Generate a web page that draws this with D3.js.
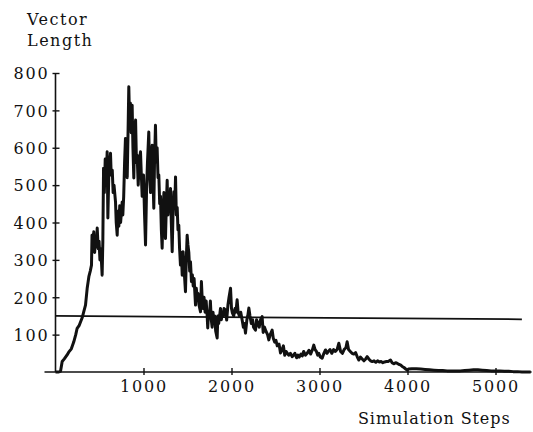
<!DOCTYPE html>
<html>
<head>
<meta charset="utf-8">
<script src="https://cdn.jsdelivr.net/npm/d3@7/dist/d3.min.js"></script>
<style>
html,body{margin:0;padding:0;background:#fff;}
svg text{font-family:"DejaVu Serif",serif;fill:#111;}
</style>
</head>
<body>
<svg id="chart" width="533" height="432"></svg>
<script>
const stepsX = [0,30,57,76,100,130,150,180,207,230,246,270,303,320,341,360,379,395,409,415,425,435,445,455,465,474,485,495,505,515,530,538,546,555,565,575,587,595,605,615,625,633,645,655,665,682,690,701,710,720,730,740,758,765,775,785,795,805,815,825,833,840,850,860,871,880,890,900,910,920,928,940,950,966,975,985,1000,1012,1023,1035,1045,1060,1070,1080,1090,1099,1108,1117,1125,1136,1145,1155,1165,1174,1184,1193,1203,1212,1222,1232,1241,1250,1260,1269,1278,1288,1297,1307,1316,1326,1335,1345,1355,1364,1373,1383,1392,1401,1410,1420,1430,1440,1450,1460,1477,1486,1496,1505,1515,1525,1534,1545,1555,1565,1575,1591,1600,1610,1620,1630,1648,1658,1668,1678,1688,1700,1712,1723,1730,1740,1750,1760,1770,1780,1790,1800,1810,1820,1837,1845,1855,1865,1875,1885,1895,1905,1915,1932,1945,1960,1972,1989,2000,2010,2025,2040,2050,2064,2075,2090,2105,2121,2135,2145,2159,2175,2185,2197,2210,2225,2240,2250,2273,2285,2300,2315,2330,2348,2360,2375,2390,2410,2424,2440,2462,2475,2490,2505,2520,2540,2557,2575,2590,2605,2620,2635,2650,2670,2689,2705,2720,2740,2755,2770,2790,2805,2820,2840,2860,2880,2900,2920,2935,2950,2965,2980,2992,3010,3030,3050,3068,3085,3100,3120,3140,3160,3180,3200,3220,3240,3260,3280,3300,3314,3330,3350,3370,3390,3410,3430,3447,3465,3485,3505,3525,3542,3560,3580,3600,3620,3640,3660,3680,3700,3720,3740,3760,3780,3807,3825,3845,3865,3885,3905,3920,3940,3960,3980,3996,4010,4050,4100,4150,4200,4250,4300,4350,4400,4450,4500,4550,4600,4650,4700,4750,4800,4850,4900,4950,5000,5050,5100,5150,5200,5250,5300,5400];
const vectorLength = [0,0,2,28,35,45,53,62,80,100,117,125,145,160,179,224,255,270,286,366,330,375,320,360,335,385,330,350,300,330,259,350,545,480,570,500,589,412,520,560,585,527,540,480,500,455,400,366,430,390,445,400,455,420,470,560,625,610,520,650,763,690,720,640,714,600,519,650,674,560,580,500,560,589,530,470,527,420,340,490,560,642,527,480,580,607,520,438,560,660,562,600,520,527,450,470,380,331,436,480,400,357,450,513,420,470,440,491,400,322,420,482,440,522,420,440,380,393,330,286,320,259,322,280,215,300,366,340,320,270,295,242,260,230,250,179,224,200,210,180,161,242,190,170,200,160,190,152,118,160,150,190,140,120,160,130,150,110,91,150,130,150,170,140,160,150,170,166,139,180,200,224,170,158,150,170,160,193,160,150,160,139,120,130,104,140,150,171,150,130,140,120,112,140,130,120,140,148,106,120,110,100,86,100,112,90,80,85,70,75,51,60,70,45,55,50,45,50,41,45,50,38,45,40,48,43,55,45,50,58,48,60,72,60,55,45,50,40,37,50,59,50,55,60,50,60,55,60,77,55,50,60,65,81,60,55,50,48,52,40,32,40,35,30,35,41,35,30,28,30,26,30,27,28,25,27,28,28,32,25,22,25,23,20,19,15,12,8,5,8,9,9,8,7,6,5,4,4,3,3,3,3,4,5,6,6,5,4,3,3,3,2,2,1,1,0,0];
const refX = [0, 5300];
const refY = [150, 141];
const yTicks = [100,200,300,400,500,600,700,800];
const xTicks = [1000,2000,3000,4000,5000];

const svg = d3.select("#chart");
const x = d3.scaleLinear().domain([0, 5000]).range([55.5, 495.5]);
const y = d3.scaleLinear().domain([0, 800]).range([372, 73]);

// axes lines
svg.append("line").attr("x1", x(-125)).attr("x2", x(5410)).attr("y1", y(0)).attr("y2", y(0))
  .attr("stroke", "#111").attr("stroke-width", 1.6);
svg.append("line").attr("x1", x(0)).attr("x2", x(0)).attr("y1", y(0)).attr("y2", y(800))
  .attr("stroke", "#111").attr("stroke-width", 1.6);

// y axis ticks
const yAxis = d3.axisLeft(y).tickValues(yTicks).tickSize(0).tickPadding(0);
const gy = svg.append("g").attr("transform", `translate(${x(0)},0)`).call(yAxis);
gy.select(".domain").remove();
gy.selectAll(".tick").append("line").attr("x1", -3).attr("x2", 4).attr("stroke", "#111").attr("stroke-width", 1.4);
gy.selectAll(".tick text").attr("x", -6).attr("dy", "0.36em")
  .style("font-size", "16px").style("letter-spacing", "1.8px").style("font-family", "DejaVu Serif, serif").attr("fill", "#111");

// x axis ticks
const xAxis = d3.axisBottom(x).tickValues(xTicks).tickSize(0).tickPadding(0).tickFormat(d3.format("d"));
const gx = svg.append("g").attr("transform", `translate(0,${y(0)})`).call(xAxis);
gx.select(".domain").remove();
gx.selectAll(".tick").append("line").attr("y1", -4).attr("y2", 3).attr("stroke", "#111").attr("stroke-width", 1.4);
gx.selectAll(".tick text").attr("y", 20).attr("dy", 0)
  .style("font-size", "16px").style("letter-spacing", "1.8px").style("font-family", "DejaVu Serif, serif").attr("fill", "#111");

// reference horizontal line
const refData = refX.map((d, i) => [d, refY[i]]);
svg.append("path").datum(refData)
  .attr("d", d3.line().x(d => x(d[0])).y(d => y(d[1])))
  .attr("fill", "none").attr("stroke", "#111").attr("stroke-width", 1.8);

// data line
const data = stepsX.map((d, i) => [d, vectorLength[i]]);
svg.append("path").datum(data)
  .attr("d", d3.line().x(d => x(d[0])).y(d => y(d[1])))
  .attr("fill", "none").attr("stroke", "#111").attr("stroke-width", 3).attr("stroke-linejoin", "round");

// titles
svg.append("text").attr("x", 27).attr("y", 25).text("Vector")
  .style("font-size", "16px").style("letter-spacing", "1.5px");
svg.append("text").attr("x", 27).attr("y", 46).text("Length")
  .style("font-size", "16px").style("letter-spacing", "1.5px");
svg.append("text").attr("x", 358).attr("y", 424).text("Simulation Steps")
  .style("font-size", "16px").style("letter-spacing", "0.9px");
</script>
</body>
</html>
